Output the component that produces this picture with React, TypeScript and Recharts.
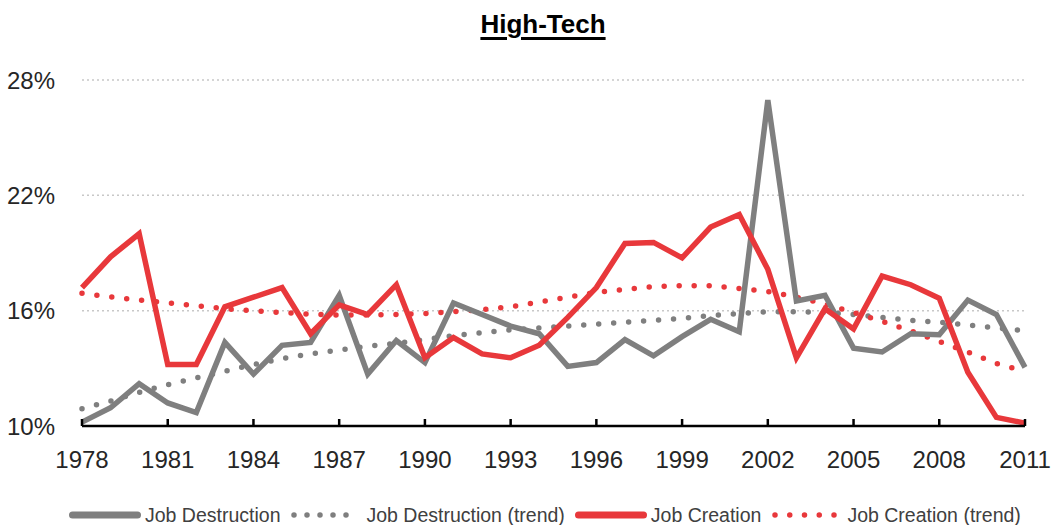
import React from 'react'
import { LineChart, Line, XAxis, YAxis, CartesianGrid, Legend } from 'recharts'

const years = [
  1978, 1979, 1980, 1981, 1982, 1983, 1984, 1985, 1986, 1987, 1988, 1989,
  1990, 1991, 1992, 1993, 1994, 1995, 1996, 1997, 1998, 1999, 2000,
  2001, 2002, 2003, 2004, 2005, 2006, 2007, 2008, 2009, 2010, 2011,
]

const jobDestruction = [
  10.2, 10.95, 12.2, 11.2, 10.7, 14.35, 12.7, 14.2, 14.35, 16.8, 12.7, 14.45,
  13.3, 16.4, 15.8, 15.2, 14.8, 13.1, 13.3, 14.5, 13.65, 14.65, 15.55,
  14.9, 26.95, 16.5, 16.8, 14.05, 13.85, 14.8, 14.75, 16.55, 15.8, 13.05,
]

const jobDestructionTrend = [
  10.9, 11.3, 11.75, 12.15, 12.5, 12.85, 13.2, 13.5, 13.75, 13.95, 14.15, 14.3,
  14.5, 14.7, 14.85, 15.0, 15.1, 15.2, 15.3, 15.4, 15.5, 15.6, 15.75,
  15.85, 15.95, 15.95, 15.9, 15.8, 15.65, 15.5, 15.4, 15.25, 15.1, 14.95,
]

const jobCreation = [
  17.2, 18.8, 20.0, 13.2, 13.2, 16.2, 16.7, 17.2, 14.8, 16.3, 15.8, 17.35,
  13.55, 14.6, 13.75, 13.55, 14.2, 15.65, 17.2, 19.5, 19.55, 18.75, 20.35,
  21.0, 18.15, 13.55, 16.1, 15.05, 17.8, 17.35, 16.65, 12.8, 10.45, 10.15,
]

const jobCreationTrend = [
  16.9, 16.72, 16.55, 16.4, 16.25, 16.1, 16.0, 15.9, 15.82, 15.77, 15.77, 15.8,
  15.85, 15.95, 16.05, 16.2, 16.45, 16.7, 16.95, 17.1, 17.25, 17.3, 17.3,
  17.15, 17.0, 16.7, 16.35, 15.9, 15.45, 14.95, 14.4, 13.85, 13.25, 12.85,
]

const xTicks = [1978, 1981, 1984, 1987, 1990, 1993, 1996, 1999, 2002, 2005, 2008, 2011]
const yTicks = [10, 16, 22, 28]

const data = years.map((year, i) => ({
  year,
  destruction: jobDestruction[i],
  destructionTrend: jobDestructionTrend[i],
  creation: jobCreation[i],
  creationTrend: jobCreationTrend[i],
}))

const FONT = '"Liberation Sans", Arial, sans-serif'
const GRAY = '#7f7f7f'
const RED = '#e8383b'

// legend entries, in the same order as the original
const legendItems = [
  { label: 'Job Destruction', color: GRAY, dots: '' },
  { label: 'Job Destruction (trend)', color: GRAY, dots: '0 13' },
  { label: 'Job Creation', color: RED, dots: '' },
  { label: 'Job Creation (trend)', color: RED, dots: '0 14.75' },
]

const renderLegend = () => (
  <div style={{ display: 'flex', alignItems: 'center', fontFamily: FONT, fontSize: 19.5, color: '#404040', whiteSpace: 'nowrap', lineHeight: '22px' }}>
    {legendItems.map((item) => (
      <div key={item.label} style={{ display: 'flex', alignItems: 'center', marginRight: 10 }}>
        <svg width={72} height={10} style={{ marginRight: 4 }}>
          {item.dots ? (
            <line x1={4} y1={5} x2={69} y2={5} stroke={item.color} strokeWidth={5.5} strokeLinecap="round" strokeDasharray={item.dots} />
          ) : (
            <line x1={3.5} y1={5} x2={68.5} y2={5} stroke={item.color} strokeWidth={7} strokeLinecap="round" />
          )}
        </svg>
        <span>{item.label}</span>
      </div>
    ))}
  </div>
)

export default function App() {
  return (
    <div style={{ position: 'absolute', left: 0, top: 0, width: 1054, height: 525, background: '#fff' }}>
      {/* Title */}
      <div
        style={{
          position: 'absolute',
          left: 543,
          top: 9,
          transform: 'translateX(-50%)',
          fontFamily: FONT,
          fontWeight: 'bold',
          fontSize: 26,
          lineHeight: '30px',
          color: '#000',
          textDecoration: 'underline',
          textDecorationThickness: '2.5px',
          textUnderlineOffset: '4px',
          whiteSpace: 'nowrap',
        }}
      >
        High-Tech
      </div>

      <LineChart width={1054} height={525} data={data} margin={{ top: 80, right: 29, left: 0, bottom: 39 }}>
        <CartesianGrid vertical={false} stroke="#c8c8c8" strokeWidth={1.5} strokeDasharray="2 3" />
        <XAxis
          dataKey="year"
          type="number"
          domain={[1978, 2011]}
          ticks={xTicks}
          height={60}
          axisLine={{ stroke: '#000', strokeWidth: 2.5 }}
          tickLine={{ stroke: '#000', strokeWidth: 2.5 }}
          tickSize={-7}
          tickMargin={32}
          tick={{ fontFamily: FONT, fontSize: 24, fill: '#262626' }}
        />
        <YAxis
          type="number"
          domain={[10, 28]}
          ticks={yTicks}
          width={82}
          axisLine={false}
          tickLine={false}
          tickSize={0}
          tickMargin={27}
          tickFormatter={(v: number) => `${v}%`}
          tick={{ fontFamily: FONT, fontSize: 24, fill: '#262626' }}
        />
        <Legend
          layout="horizontal"
          verticalAlign="middle"
          align="center"
          content={renderLegend}
          wrapperStyle={{ top: 504, left: 69, width: 'auto', height: 22 }}
        />
        <Line
          type="linear"
          dataKey="destructionTrend"
          stroke={GRAY}
          strokeWidth={5.5}
          strokeLinecap="round"
          strokeDasharray="0 15"
          dot={false}
          isAnimationActive={false}
        />
        <Line
          type="linear"
          dataKey="creationTrend"
          stroke={RED}
          strokeWidth={5.5}
          strokeLinecap="round"
          strokeDasharray="0 15"
          dot={false}
          isAnimationActive={false}
        />
        <Line
          type="linear"
          dataKey="destruction"
          stroke={GRAY}
          strokeWidth={5.5}
          dot={false}
          isAnimationActive={false}
        />
        <Line
          type="linear"
          dataKey="creation"
          stroke={RED}
          strokeWidth={5.5}
          dot={false}
          isAnimationActive={false}
        />
      </LineChart>
    </div>
  )
}
